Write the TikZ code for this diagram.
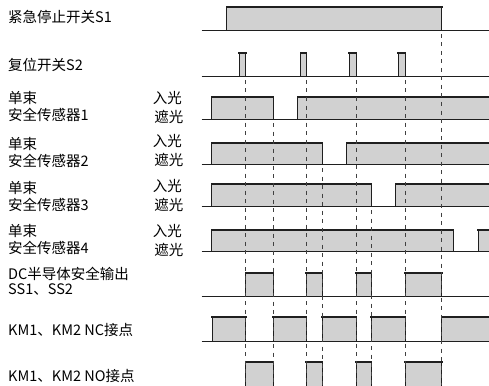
\documentclass[tikz,border=0pt]{standalone}
\usepackage{fontspec}
\newfontfamily\cjk{Noto Sans CJK SC}
\definecolor{ink}{gray}{0.12}
\definecolor{boxgray}{gray}{0.82}
\begin{document}
\begin{tikzpicture}[x=1pt,y=-1pt,
  wire/.style={draw=ink,line width=0.9pt},
  level/.style={draw=ink,line width=1.7pt,line cap=rect},
  guide/.style={draw=ink!85,line width=0.8pt,dash pattern=on 4pt off 4.5pt},
  signame/.style={anchor=west,inner sep=0pt,align=left,font=\cjk\fontsize{14.5}{16.5}\selectfont},
  lightlbl/.style={anchor=east,inner sep=0pt,font=\cjk\fontsize{14.5}{16.5}\selectfont}]
\useasboundingbox (0,0) rectangle (489,385);
\clip (0,0) rectangle (489,385);

% Signal names
\node[signame] (estop) at (8,17) {紧急停止开关S1};
\node[signame] (reset) at (8,65) {复位开关S2};
\node[signame] (sens1) at (8,106.5) {单束\\安全传感器1};
\node[signame] (sens2) at (8,152.7) {单束\\安全传感器2};
\node[signame] (sens3) at (8,196.5) {单束\\安全传感器3};
\node[signame] (sens4) at (8,239.7) {单束\\安全传感器4};
\node[signame,font=\cjk\fontsize{14.5}{14.5}\selectfont] (ssout) at (8,281) {DC半导体安全输出\\SS1、SS2};
\node[signame] (nccon) at (8,330) {KM1、KM2 NC接点};
\node[signame] (nocon) at (8,376) {KM1、KM2 NO接点};

% Light states
\foreach \i/\y in {1/97.5,2/141,3/186,4/231} {
  \node[lightlbl] (in\i) at (182,\y) {入光};
  \node[lightlbl] (off\i) at (183.5,\y+19) {遮光};
}

% Waveforms: top / base / high intervals
\foreach \t/\b/\ivs in {6.7/30/{226.7/441.7},
    52.7/76/{239.3/245.7,300.7/306,349/356,398.3/405},
    97.3/119.3/{211.7/273.3,297.7/495},
    142.7/164.3/{211.7/322,346.7/495},
    184.3/206.7/{211.7/371,395.7/495},
    230/251.7/{211.7/453.3,478.3/495},
    273/296/{245.7/273.3,306/322,356/371,405/441.7},
    317.3/341/{212/245.7,273.3/306,322/356,371/405,441.7/495},
    362.3/387/{245.7/273.3,306/322,356/371,405/441.7}} {
  \foreach \u/\v in \ivs {
    \fill[boxgray] (\u,\t) rectangle (\v,\b);
    \draw[wire] (\u,\b) -- (\u,\t) (\v,\t) -- (\v,\b);
    \draw[level] (\u,\t) -- (\v,\t);
  }
  \draw[wire] (201.7,\b) -- (489,\b);
}

% Timing guides
\foreach \x/\y in {245.7/80,273.3/123,306/80,322/168,356/80,371/210,405/80,441.7/34} {
  \draw[guide] (\x,\y) -- (\x,385);
}

\end{tikzpicture}
\end{document}
